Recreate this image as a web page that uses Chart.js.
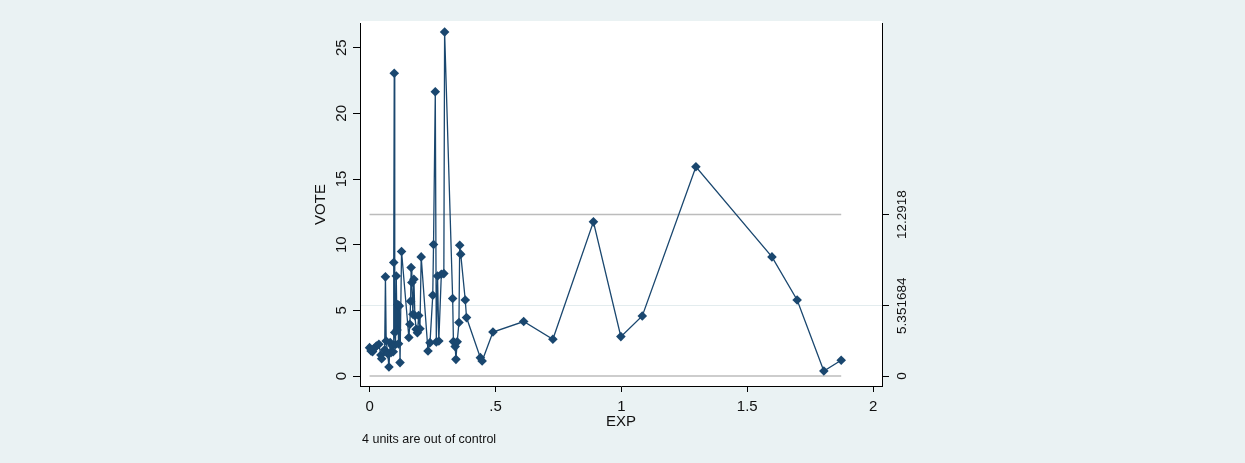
<!DOCTYPE html>
<html>
<head>
    <meta charset="utf-8"/>
    <title>VOTE control chart</title>
    <script src="https://cdn.jsdelivr.net/npm/chart.js"></script>
    <style>
        body { margin: 0; background: #eaf2f3; }
        canvas { display: block; }
    </style>
</head>
<body>
    <canvas id="voteChart" width="1245" height="463"></canvas>

    <script type="text/javascript">
      // EXP values (sorted, the line joins them in this order)
      const expValues = [
        0.000, 0.006, 0.012, 0.018, 0.027, 0.037, 0.045, 0.048, 0.060, 0.063,
        0.066, 0.072, 0.077, 0.082, 0.085, 0.090, 0.094, 0.096, 0.098, 0.100,
        0.103, 0.106, 0.109, 0.112, 0.115, 0.118, 0.121, 0.127, 0.156, 0.160,
        0.163, 0.165, 0.168, 0.172, 0.176, 0.180, 0.185, 0.190, 0.195, 0.200,
        0.205, 0.232, 0.240, 0.251, 0.254, 0.261, 0.265, 0.270, 0.275, 0.285,
        0.295, 0.298, 0.330, 0.333, 0.340, 0.343, 0.348, 0.355, 0.358, 0.362,
        0.380, 0.385, 0.440, 0.447, 0.490, 0.612, 0.728, 0.889, 0.998, 1.083,
        1.296, 1.598, 1.698, 1.804, 1.873
      ];
      // VOTE values
      const voteValues = [
        2.16, 1.90, 1.86, 2.10, 2.29, 2.42, 1.60, 1.32, 2.00, 7.55,
        2.67, 1.70, 0.69, 2.55, 1.78, 2.30, 1.85, 8.64, 23.05, 3.31,
        2.40, 7.62, 3.50, 5.45, 2.45, 5.34, 1.02, 9.48, 2.93, 3.94,
        5.70, 8.26, 7.12, 4.70, 7.37, 4.60, 3.56, 3.30, 4.60, 3.60,
        9.07, 1.91, 2.54, 6.15, 10.01, 21.65, 2.59, 7.62, 2.67, 7.75,
        7.80, 26.20, 5.90, 2.62, 2.24, 1.27, 2.60, 4.07, 9.96, 9.28,
        5.79, 4.45, 1.40, 1.14, 3.35, 4.15, 2.80, 11.74, 3.00, 4.57,
        15.93, 9.07, 5.79, 0.38, 1.20
      ];

      const ucl = 12.2918;
      const centerLine = 5.351684;
      const lcl = 0;

      const leftTicks = [0, 5, 10, 15, 20, 25];
      const rightTicks = [lcl, centerLine, ucl];
      const rightTickLabels = ['0', '5.351684', '12.2918'];
      const xTicks = [0, 0.5, 1, 1.5, 2];
      const xTickLabels = ['0', '.5', '1', '1.5', '2'];
      const note = '4 units are out of control';

      const FONT = "'Liberation Sans', Arial, sans-serif";
      const NAVY = '#1a476f';
      const TEXT = '#111';

      const points = expValues.map((e, i) => ({ x: e, y: voteValues[i] }));
      const xMin = Math.min(...expValues);
      const xMax = Math.max(...expValues);

      function limitLine(value) {
        return {
          data: [{ x: xMin, y: value }, { x: xMax, y: value }],
          showLine: true,
          borderColor: '#bcbcbc',
          borderWidth: 1.5,
          pointRadius: 0
        };
      }

      // background + white plot region, rotated y tick labels, footnote
      const decorations = {
        id: 'decorations',
        beforeDraw(chart) {
          const ctx = chart.ctx;
          const a = chart.chartArea;
          ctx.save();
          ctx.fillStyle = '#eaf2f3';
          ctx.fillRect(0, 0, chart.width, chart.height);
          ctx.fillStyle = '#ffffff';
          ctx.fillRect(a.left, a.top - 2, a.right - a.left, a.bottom - a.top + 2);
          ctx.restore();
        },
        afterDraw(chart) {
          const ctx = chart.ctx;
          const y = chart.scales.y;
          const y2 = chart.scales.y2;
          ctx.save();
          ctx.fillStyle = TEXT;
          ctx.textAlign = 'center';
          ctx.textBaseline = 'middle';

          ctx.font = '15px ' + FONT;
          leftTicks.forEach(v => {
            ctx.save();
            ctx.translate(342, y.getPixelForValue(v));
            ctx.rotate(-Math.PI / 2);
            ctx.fillText(String(v), 0, 0);
            ctx.restore();
          });

          ctx.font = '13.5px ' + FONT;
          rightTicks.forEach((v, i) => {
            ctx.save();
            ctx.translate(902, y2.getPixelForValue(v));
            ctx.rotate(-Math.PI / 2);
            ctx.fillText(rightTickLabels[i], 0, 0);
            ctx.restore();
          });

          ctx.textAlign = 'left';
          ctx.font = '12.5px ' + FONT;
          ctx.fillText(note, 362, 440);
          ctx.restore();
        }
      };

      const ctx = document.getElementById('voteChart').getContext('2d');
      const voteChart = new Chart(ctx, {
        type: 'scatter',
        data: {
          datasets: [
            {
              data: points,
              showLine: true,
              borderColor: NAVY,
              borderWidth: 1.3,
              pointStyle: 'rectRot',
              pointRadius: 4.8,
              pointBackgroundColor: NAVY,
              pointBorderColor: NAVY,
              pointBorderWidth: 0
            },
            limitLine(ucl),
            limitLine(lcl)
          ]
        },
        options: {
          responsive: false,
          animation: false,
          devicePixelRatio: 1,
          layout: { padding: { top: 23, left: 0, right: 0, bottom: 0 } },
          plugins: {
            legend: { display: false },
            tooltip: { enabled: false }
          },
          scales: {
            x: {
              type: 'linear',
              min: -0.038,
              max: 2.035,
              afterBuildTicks: s => { s.ticks = xTicks.map(v => ({ value: v })); },
              afterFit: s => { s.height = 77; },
              grid: { drawOnChartArea: false, tickLength: 6, tickColor: '#000' },
              border: { display: true, color: '#000', width: 1 },
              ticks: {
                padding: 6,
                color: TEXT,
                font: { family: FONT, size: 15 },
                callback: (v) => xTickLabels[xTicks.indexOf(v)]
              },
              title: {
                display: true,
                text: 'EXP',
                color: TEXT,
                font: { family: FONT, size: 15 },
                padding: { top: 0, bottom: 32 }
              }
            },
            y: {
              type: 'linear',
              position: 'left',
              min: -0.76,
              max: 26.88,
              afterBuildTicks: s => { s.ticks = leftTicks.map(v => ({ value: v })); },
              afterFit: s => { s.width = 360; },
              grid: { drawOnChartArea: false, tickLength: 7, tickColor: '#000' },
              border: { display: true, color: '#000', width: 1 },
              ticks: { display: false },
              title: {
                display: true,
                text: 'VOTE',
                color: TEXT,
                font: { family: FONT, size: 15 },
                padding: { top: 312, bottom: 0 }
              }
            },
            y2: {
              type: 'linear',
              position: 'right',
              min: -0.76,
              max: 26.88,
              afterBuildTicks: s => { s.ticks = rightTicks.map(v => ({ value: v })); },
              afterFit: s => { s.width = 363; },
              grid: {
                drawOnChartArea: true,
                tickLength: 7,
                tickColor: '#000',
                color: c => (c.tick && Math.abs(c.tick.value - centerLine) < 1e-6) ? '#e3ecee' : 'rgba(0,0,0,0)'
              },
              border: { display: true, color: '#000', width: 1 },
              ticks: { display: false }
            }
          }
        },
        plugins: [decorations]
      });
    </script>
</body>
</html>
